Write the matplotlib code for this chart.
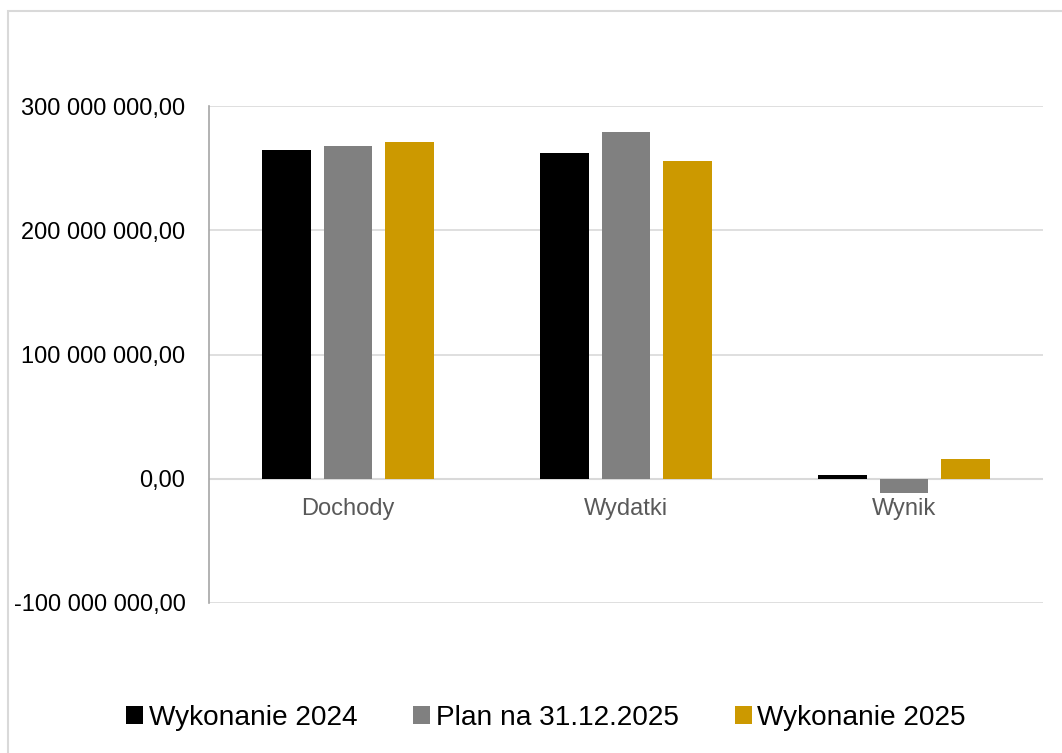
import matplotlib
matplotlib.use("Agg")
import matplotlib.pyplot as plt
import numpy as np
from matplotlib.patches import Rectangle

plt.rcParams["font.family"] = ["Liberation Sans", "DejaVu Sans"]

categories = ["Dochody", "Wydatki", "Wynik"]
series_names = ["Wykonanie 2024", "Plan na 31.12.2025", "Wykonanie 2025"]
wykonanie_2024 = [264.9e6, 262.0e6, 2.9e6]
plan_2025 = [268.1e6, 279.4e6, -11.3e6]
wykonanie_2025 = [271.0e6, 255.5e6, 15.5e6]
colors = ["#000000", "#808080", "#cc9900"]
y_ticks = [-100e6, 0, 100e6, 200e6, 300e6]


def fmt(v):
    s = f"{abs(v):,.2f}".replace(",", " ").replace(".", ",")
    return ("-" if v < 0 else "") + s


fig = plt.figure(figsize=(10.62, 7.53), dpi=100)
ax = fig.add_axes([209 / 1062, 1 - 603 / 753, (1043 - 209) / 1062, (603 - 106) / 753])

x = np.arange(len(categories))
width = 0.176
step = 0.222
for i, (vals, name) in enumerate(zip([wykonanie_2024, plan_2025, wykonanie_2025], series_names)):
    ax.bar(x + (i - 1) * step, vals, width, color=colors[i], label=name, zorder=3)

ax.set_xlim(-0.5, len(categories) - 0.5)
ax.set_ylim(-100e6, 300e6)
ax.set_yticks(y_ticks)
ax.set_yticklabels([fmt(v) for v in y_ticks], fontsize=17, color="black")
ax.tick_params(axis="y", length=0, pad=17)
ax.set_xticks([])
ax.grid(axis="y", color="#d9d9d9", linewidth=1.2, zorder=0)
ax.axhline(0, color="#d9d9d9", linewidth=1.5, zorder=2)
for side in ["top", "right", "bottom"]:
    ax.spines[side].set_visible(False)
ax.spines["left"].set_color("#a6a6a6")
ax.spines["left"].set_linewidth(1.2)

for xi, cat in zip(x, categories):
    ax.annotate(cat, (xi, 0), xytext=(0, -14), textcoords="offset points",
                ha="center", va="top", fontsize=17, color="#595959")

fig.legend(loc="center", bbox_to_anchor=(0.514, 1 - 718 / 753), ncol=3, frameon=False,
           fontsize=20.2, handlelength=0.6, handleheight=0.6, handletextpad=0.2,
           columnspacing=2.0)

fig.patches.append(Rectangle((8 / 1062, -0.1), 1.2, 1.1 - 11 / 753, transform=fig.transFigure,
                             fill=False, edgecolor="#d9d9d9", linewidth=1.5))

fig.savefig("out.png", dpi=100)
